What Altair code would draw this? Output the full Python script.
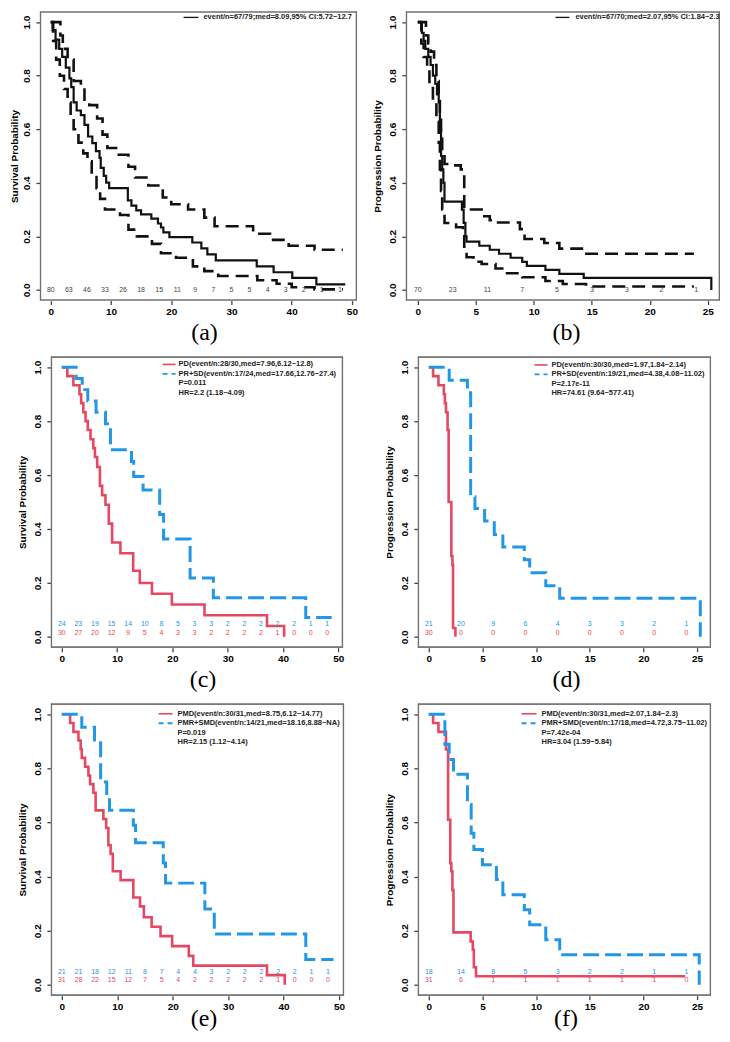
import altair as alt
import pandas as pd

FONT = "Liberation Sans"
SERIF = "Liberation Serif"
RED = "#E44862"
BLUE = "#2297E6"
BLACK = "#111111"
GRAY = "#444444"
FRAME = "#707070"

# ---------------- data ----------------
Y_TICKS = [0.0, 0.2, 0.4, 0.6, 0.8, 1.0]
X_TICKS_OS = [0, 10, 20, 30, 40, 50]
X_TICKS_PFS = [0, 5, 10, 15, 20, 25]
RISK_T_OS = [0, 3, 6, 9, 12, 15, 18, 21, 24, 27, 30, 33, 36, 39, 42, 45, 48]
RISK_T_PFS = [0, 3, 6, 9, 12, 15, 18, 21, 24]

# (a) overall survival with 95% CI
A_T = [0, 0.3, 0.8, 1.4, 1.9, 2.5, 3.1, 3.4, 3.8, 4.3, 5.0, 5.6, 6.2, 6.9, 7.5, 8.1, 8.3, 8.8, 9.2, 9.7,
       12.8, 13.4, 14.2, 15.0, 16.7, 17.8, 18.3, 18.7, 19.7, 23.5, 25.0, 26.0, 27.4, 34.2, 37.0, 40.1, 44.1, 48.9]
A_S = [1.0, 0.97, 0.935, 0.9, 0.87, 0.83, 0.79, 0.757, 0.70, 0.67, 0.653, 0.616, 0.573, 0.548, 0.518, 0.493,
       0.456, 0.426, 0.401, 0.38, 0.334, 0.315, 0.297, 0.282, 0.266, 0.248, 0.233, 0.215, 0.197, 0.177, 0.155,
       0.133, 0.11, 0.088, 0.066, 0.045, 0.021, 0.021]
AU_T = [0, 1.6, 2.0, 2.8, 3.8, 5.0, 5.6, 6.4, 7.7, 8.6, 9.4, 11.3, 12.9, 14.0, 16.2, 18.6, 20.0, 22.8, 25.5,
        27.2, 33.6, 36.4, 39.5, 43.8, 48.5]
AU_S = [1.0, 0.95, 0.90, 0.86, 0.78, 0.76, 0.71, 0.69, 0.64, 0.58, 0.53, 0.505, 0.46, 0.42, 0.39, 0.345, 0.32,
        0.30, 0.27, 0.238, 0.21, 0.187, 0.165, 0.15, 0.15]
AL_T = [0, 0.4, 0.9, 1.5, 2.2, 2.8, 3.3, 3.8, 4.6, 5.4, 6.1, 6.8, 7.6, 8.2, 9.0, 11.5, 12.9, 14.3, 16.8, 18.3,
        20.8, 23.6, 25.5, 27.8, 34.3, 37.5, 40.0, 43.8, 48.5]
AL_S = [1.0, 0.93, 0.86, 0.8, 0.75, 0.7, 0.65, 0.6, 0.55, 0.51, 0.48, 0.43, 0.38, 0.34, 0.30, 0.28, 0.225, 0.2,
        0.172, 0.137, 0.12, 0.088, 0.07, 0.052, 0.036, 0.023, 0.01, 0.002, 0.002]
A_RISK = [80, 63, 46, 33, 26, 18, 15, 11, 9, 7, 5, 5, 4, 3, 2, 1, 1]
A_LEG = ["event/n=67/79;med=8.09,95% CI:5.72~12.7"]

# (b) overall progression with 95% CI
B_T = [0, 0.35, 0.5, 0.65, 0.9, 1.1, 1.3, 1.5, 1.65, 1.8, 1.9, 2.0, 2.1, 2.2, 2.3, 3.8, 3.95, 4.1, 4.2, 5.3,
       6.2, 7.0, 8.0, 9.0, 9.4, 11.0, 12.2, 14.3, 25.3]
B_S = [1.0, 0.96, 0.93, 0.9, 0.87, 0.84, 0.80, 0.77, 0.73, 0.70, 0.6, 0.5, 0.45, 0.4, 0.33, 0.30, 0.25, 0.2,
       0.18, 0.165, 0.15, 0.135, 0.12, 0.105, 0.09, 0.075, 0.06, 0.045, 0.0]
BU_T = [0, 0.7, 0.9, 1.1, 1.4, 1.6, 1.8, 1.9, 2.0, 2.1, 2.3, 3.0, 3.7, 4.0, 5.5, 6.2, 6.6, 8.8, 9.2, 10.9,
        12.2, 14.3, 23.8]
BU_S = [1.0, 0.95, 0.92, 0.89, 0.84, 0.78, 0.72, 0.65, 0.58, 0.52, 0.47, 0.465, 0.45, 0.30, 0.275, 0.26,
        0.252, 0.227, 0.19, 0.175, 0.154, 0.135, 0.135]
BL_T = [0, 0.3, 0.5, 0.8, 1.0, 1.3, 1.6, 1.8, 1.9, 2.0, 2.1, 2.3, 3.3, 3.9, 4.0, 4.2, 4.8, 5.5, 6.7, 7.5, 9.0,
        11.0, 12.5, 14.5, 23.8]
BL_S = [1.0, 0.92, 0.87, 0.83, 0.76, 0.70, 0.63, 0.55, 0.45, 0.37, 0.3, 0.25, 0.234, 0.21, 0.15, 0.122, 0.105,
        0.097, 0.08, 0.062, 0.047, 0.033, 0.022, 0.013, 0.013]
B_RISK = [70, 23, 11, 7, 5, 3, 3, 2, 1]
B_LEG = ["event/n=67/70;med=2.07,95% CI:1.84~2.3"]

# (c) OS by response: PD vs PR+SD
C_PD_T = [0, 1.0, 2.1, 3.2, 3.5, 3.9, 4.3, 4.7, 5.2, 5.7, 6.0, 6.4, 6.9, 7.3, 7.9, 8.5, 9.1, 10.6, 12.9, 14.1,
          16.3, 19.9, 25.8, 37.1, 40.2]
C_PD_S = [1.0, 0.967, 0.933, 0.9, 0.867, 0.833, 0.8, 0.767, 0.733, 0.7, 0.667, 0.63, 0.56, 0.525, 0.49, 0.42,
          0.35, 0.31, 0.245, 0.2, 0.16, 0.12, 0.08, 0.04, 0.0]
C_PR_T = [0, 2.6, 3.7, 4.7, 6.2, 7.9, 8.8, 12.6, 13.0, 14.7, 17.7, 18.4, 23.2, 27.4, 44.1, 48.8]
C_PR_S = [1.0, 0.958, 0.917, 0.875, 0.833, 0.79, 0.694, 0.65, 0.595, 0.545, 0.454, 0.363, 0.218, 0.145,
          0.072, 0.072]
C_RISK_PR = [24, 23, 19, 15, 14, 10, 8, 5, 3, 3, 2, 2, 2, 2, 2, 1, 1]
C_RISK_PD = [30, 27, 20, 12, 9, 5, 4, 3, 3, 2, 2, 2, 2, 1, 0, 0, 0]
C_LEG = ["PD(event/n:28/30,med=7.96,6.12~12.8)", "PR+SD(event/n:17/24,med=17.66,12.76~27.4)",
         "P=0.011", "HR=2.2 (1.18~4.09)"]

# (d) PFS by response: PD vs PR+SD
D_PD_T = [0, 0.4, 0.9, 1.4, 1.5, 1.6, 1.75, 1.85, 2.1, 2.2, 2.26, 2.48]
D_PD_S = [1.0, 0.967, 0.933, 0.9, 0.867, 0.833, 0.767, 0.5, 0.3, 0.267, 0.033, 0.0]
D_PR_T = [0, 1.9, 3.6, 3.9, 4.3, 5.2, 6.1, 6.9, 8.9, 9.4, 10.9, 12.2, 25.3]
D_PR_S = [1.0, 0.952, 0.905, 0.52, 0.476, 0.43, 0.38, 0.333, 0.286, 0.238, 0.19, 0.143, 0.0]
D_RISK_PR = [21, 20, 9, 6, 4, 3, 3, 2, 1]
D_RISK_PD = [30, 0, 0, 0, 0, 0, 0, 0, 0]
D_LEG = ["PD(event/n:30/30,med=1.97,1.84~2.14)", "PR+SD(event/n:19/21,med=4.38,4.08~11.02)",
         "P=2.17e-11", "HR=74.61 (9.64~577.41)"]

# (e) OS by metabolic response: PMD vs PMR+SMD
E_PMD_T = [0, 1.5, 2.1, 3.0, 3.4, 3.6, 4.2, 4.8, 5.1, 5.7, 6.1, 7.5, 8.0, 8.4, 8.8, 9.2, 10.6, 12.9, 14.1,
           14.8, 16.2, 17.8, 19.9, 22.9, 23.7, 37.0, 40.2]
E_PMD_S = [1.0, 0.968, 0.935, 0.903, 0.871, 0.839, 0.806, 0.774, 0.742, 0.71, 0.645, 0.613, 0.58, 0.516,
           0.484, 0.42, 0.387, 0.323, 0.29, 0.25, 0.215, 0.18, 0.143, 0.107, 0.071, 0.036, 0.0]
E_PMR_T = [0, 3.6, 5.9, 7.0, 8.1, 8.6, 12.9, 13.3, 18.3, 18.7, 25.8, 27.5, 44.0, 49.0]
E_PMR_S = [1.0, 0.952, 0.905, 0.75, 0.70, 0.645, 0.59, 0.525, 0.45, 0.376, 0.28, 0.188, 0.094, 0.094]
E_RISK_PMR = [21, 21, 18, 12, 11, 8, 7, 4, 4, 3, 2, 2, 2, 2, 2, 1, 1]
E_RISK_PMD = [31, 28, 22, 15, 12, 7, 5, 4, 2, 2, 2, 2, 2, 1, 0, 0, 0]
E_LEG = ["PMD(event/n:30/31,med=8.75,6.12~14.77)", "PMR+SMD(event/n:14/21,med=18.16,8.88~NA)",
         "P=0.019", "HR=2.15 (1.12~4.14)"]

# (f) PFS by metabolic response: PMD vs PMR+SMD
F_PMD_T = [0, 0.4, 0.9, 1.6, 1.8, 2.0, 2.1, 2.2, 2.3, 3.9, 4.1, 4.2, 4.4, 23.9]
F_PMD_S = [1.0, 0.968, 0.935, 0.87, 0.61, 0.45, 0.42, 0.35, 0.194, 0.16, 0.13, 0.065, 0.032, 0.032]
F_PMR_T = [0, 1.5, 1.9, 2.3, 3.6, 3.95, 4.2, 5.0, 6.3, 6.9, 8.9, 9.4, 10.9, 12.2, 25.2]
F_PMR_S = [1.0, 0.889, 0.833, 0.778, 0.667, 0.56, 0.5, 0.444, 0.389, 0.333, 0.278, 0.222, 0.167, 0.111, 0.0]
F_RISK_PMR = [18, 14, 8, 5, 3, 2, 2, 1, 1]
F_RISK_PMD = [31, 6, 1, 1, 1, 1, 1, 1, 0]
F_LEG = ["PMD(event/n:30/31,med=2.07,1.84~2.3)", "PMR+SMD(event/n:17/18,med=4.72,3.75~11.02)",
         "P=7.42e-04", "HR=3.04 (1.59~5.84)"]

CAPTIONS = ["(a)", "(b)", "(c)", "(d)", "(e)", "(f)"]
OS_TITLE = "Survival Probability"
PFS_TITLE = "Progression Probability"


def x_axis(ticks):
    return alt.Axis(values=ticks, title=None, grid=False, domain=False, ticks=True, tickSize=4,
                    tickColor="#444", tickWidth=1.3, tickOpacity=1, labelFont=FONT, labelFontSize=10,
                    labelFontWeight="bold", labelColor="#000", labelPadding=2, labelFlush=False,
                    labelOverlap=False)


def y_axis(title, offset, title_x):
    return alt.Axis(values=Y_TICKS, format=".1f", title=title, grid=False, domain=False, ticks=True,
                    tickSize=4, tickColor="#444", tickWidth=1.3, tickOpacity=1, labelFont=FONT,
                    labelFontSize=10, labelFontWeight="bold", labelColor="#000", labelAngle=270,
                    labelAlign="center", labelBaseline="bottom", labelPadding=4, labelFlush=False,
                    labelOverlap=False, titleFont=FONT, titleFontSize=10, titleFontWeight="bold",
                    titleColor="#000", titleAngle=270, titleBaseline="middle", titleX=title_x,
                    offset=offset)


def panel(cell_w, h, fx0, fw, data_dom, xticks, ytitle, title_x, curves, risk_rows, legend_lines,
          legend_marks, leg_x, leg_y, caption, cap_x, cap_y, anchor=False):
    d0, d1 = data_dom
    k = fw / (d1 - d0)
    xs = alt.Scale(domain=[d0 - fx0 / k, d1 + (cell_w - fx0 - fw) / k], nice=False, zero=False)
    ys = alt.Scale(domain=[-0.04, 1.04], nice=False, zero=False)
    one = pd.DataFrame({"k": [0]})
    # plot frame (box)
    layers = [alt.Chart(one).mark_rect(fillOpacity=0, stroke=FRAME, strokeWidth=1.2).encode(
        x=alt.value(fx0 + 0.6), x2=alt.value(fx0 + fw - 0.6), y=alt.value(0.6), y2=alt.value(h - 0.6))]
    fr = dict(color=FRAME, strokeWidth=1.2)
    layers += [
        alt.Chart(one).mark_rule(**fr).encode(x=alt.value(fx0 + 0.6), y=alt.value(0), y2=alt.value(h)),
        alt.Chart(one).mark_rule(**fr).encode(x=alt.value(fx0 + fw - 0.6), y=alt.value(0), y2=alt.value(h)),
        alt.Chart(one).mark_rule(**fr).encode(x=alt.value(fx0), x2=alt.value(fx0 + fw), y=alt.value(0.6)),
        alt.Chart(one).mark_rule(**fr).encode(x=alt.value(fx0), x2=alt.value(fx0 + fw), y=alt.value(h - 0.6)),
    ]
    for k_, (t, s, color, width, dash) in enumerate(curves):
        df = pd.DataFrame({"t": t, "s": s, "i": list(range(len(t)))})
        mk = dict(interpolate="step-after", color=color, strokeWidth=width)
        if dash:
            mk["strokeDash"] = dash
        layers.append(alt.Chart(df).mark_line(**mk).encode(
            x=alt.X("t:Q", scale=xs, axis=x_axis(xticks) if k_ == 0 else None),
            y=alt.Y("s:Q", scale=ys, axis=y_axis(ytitle, -fx0, title_x) if k_ == 0 else None),
            order="i:Q"))
    for (times, counts, color, yv) in risk_rows:
        df = pd.DataFrame({"t": times, "n": [str(c) for c in counts]})
        layers.append(alt.Chart(df).mark_text(font=FONT, fontSize=7, color=color, baseline="middle").encode(
            x=alt.X("t:Q", scale=xs, axis=None),
            y=alt.YDatum(yv, type="quantitative", scale=ys, axis=None),
            text="n:N"))
    x1, x2, xt = leg_x
    y0, dy = leg_y
    for i, line in enumerate(legend_lines):
        yy = y0 + i * dy
        if i < len(legend_marks):
            color, dash, lw = legend_marks[i]
            mk = dict(color=color, strokeWidth=lw)
            if dash:
                mk["strokeDash"] = dash
            layers.append(alt.Chart(one).mark_rule(**mk).encode(
                x=alt.value(x1), x2=alt.value(x2), y=alt.value(yy)))
        layers.append(alt.Chart(pd.DataFrame({"label": [line]})).mark_text(
            font=FONT, fontSize=7.5, fontWeight="bold", color="#222", align="left", baseline="middle").encode(
            x=alt.value(xt), y=alt.value(yy), text="label:N"))
    layers.append(alt.Chart(pd.DataFrame({"label": [caption]})).mark_text(
        font=SERIF, fontSize=24, color="#000", align="center", baseline="alphabetic").encode(
        x=alt.value(cap_x), y=alt.value(h + cap_y), text="label:N"))
    if anchor:
        layers.append(alt.Chart(one).mark_rule(opacity=0, strokeWidth=0.01).encode(
            x=alt.value(-31), y=alt.value(1), y2=alt.value(3)))
    return alt.layer(*layers).resolve_axis(x="independent", y="independent").properties(width=cell_w, height=h)


DASH_K = [13, 7]
DASH_B = [16, 6]
W_LEFT = 367
W_RIGHT = 315

pa = panel(W_LEFT, 290, 0, 318, [-1.8, 50.85], X_TICKS_OS, OS_TITLE, -25,
           [(AU_T, AU_S, BLACK, 2.6, DASH_K), (AL_T, AL_S, BLACK, 2.6, DASH_K), (A_T, A_S, BLACK, 2.2, None)],
           [(RISK_T_OS, A_RISK, GRAY, 0.0)], A_LEG, [(BLACK, None, 1.3)], (144, 159, 164), (6, 0),
           CAPTIONS[0], 165, 39.5, anchor=True)
pb = panel(W_RIGHT, 290, 0, 315, [-1.03, 26.05], X_TICKS_PFS, PFS_TITLE, -28,
           [(BU_T, BU_S, BLACK, 2.6, DASH_K), (BL_T, BL_S, BLACK, 2.6, DASH_K), (B_T, B_S, BLACK, 2.2, None)],
           [(RISK_T_PFS, B_RISK, GRAY, 0.0)], B_LEG, [(BLACK, None, 1.3)], (150, 164, 170), (6, 0),
           CAPTIONS[1], 161, 39.5)
pc = panel(W_LEFT, 292, 11, 293, [-1.97, 50.85], X_TICKS_OS, OS_TITLE, -28,
           [(C_PD_T, C_PD_S, RED, 2.6, None), (C_PR_T, C_PR_S, BLUE, 3, DASH_B)],
           [(RISK_T_OS, C_RISK_PR, BLUE, 0.047), (RISK_T_OS, C_RISK_PD, RED, 0.016)],
           C_LEG, [(RED, None, 1.6), (BLUE, [5, 4], 1.8)], (123, 136, 139), (8, 9.5), CAPTIONS[2], 163.5, 39.5)
pd_ = panel(W_RIGHT, 292, 12, 294, [-1.02, 26.3], X_TICKS_PFS, PFS_TITLE, -28,
            [(D_PD_T, D_PD_S, RED, 2.6, None), (D_PR_T, D_PR_S, BLUE, 3, DASH_B)],
            [(RISK_T_PFS, D_RISK_PR, BLUE, 0.047), (RISK_T_PFS, D_RISK_PD, RED, 0.016)],
            D_LEG, [(RED, None, 1.6), (BLUE, [5, 4], 1.8)], (129, 142, 146), (8.5, 9.5), CAPTIONS[3], 161, 39.5)
pe = panel(W_LEFT, 293, 11, 294, [-1.97, 50.9], X_TICKS_OS, OS_TITLE, -28,
           [(E_PMD_T, E_PMD_S, RED, 2.6, None), (E_PMR_T, E_PMR_S, BLUE, 3, DASH_B)],
           [(RISK_T_OS, E_RISK_PMR, BLUE, 0.048), (RISK_T_OS, E_RISK_PMD, RED, 0.017)],
           E_LEG, [(RED, None, 1.6), (BLUE, [5, 4], 1.8)], (119, 133, 138), (10.3, 9.5), CAPTIONS[4], 164.5, 30)
pf = panel(W_RIGHT, 293, 12, 294, [-1.02, 26.3], X_TICKS_PFS, PFS_TITLE, -28,
           [(F_PMD_T, F_PMD_S, RED, 2.6, None), (F_PMR_T, F_PMR_S, BLUE, 3, DASH_B)],
           [(RISK_T_PFS, F_RISK_PMR, BLUE, 0.048), (RISK_T_PFS, F_RISK_PMD, RED, 0.017)],
           F_LEG, [(RED, None, 1.6), (BLUE, [5, 4], 1.8)], (116, 131, 136), (10.3, 9.5), CAPTIONS[5], 160.5, 30)

chart = alt.concat(pa, pb, pc, pd_, pe, pf, columns=2, spacing={"row": 56, "column": 0},
                   bounds="flush", align="each").properties(
    padding=0, background="white"
).configure_view(stroke="transparent")

chart.save("out.html", embed_options={"renderer": "svg", "actions": False})
